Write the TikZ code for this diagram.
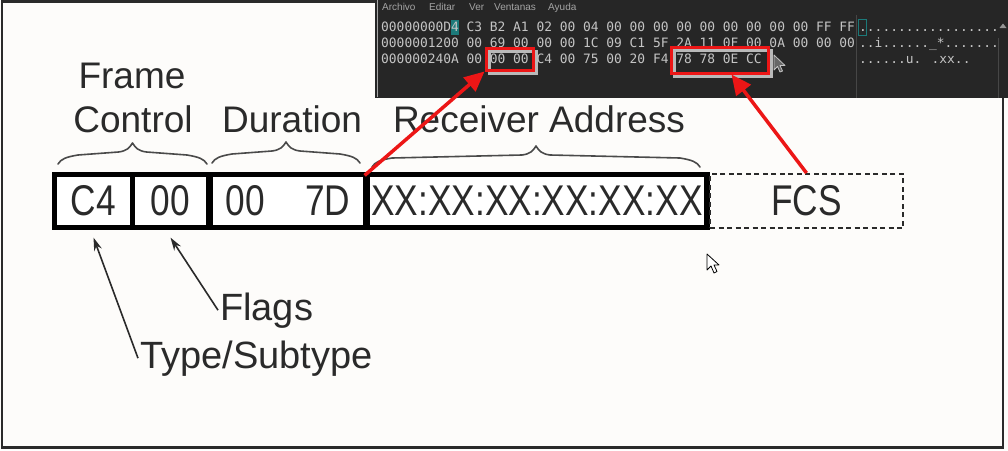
\documentclass[tikz,border=0pt]{standalone}
\usepackage{fontspec}
\setmainfont{Liberation Sans}
\newfontfamily\boxfont[FakeStretch=0.82]{Liberation Sans}
\newfontfamily\hexfont{DejaVu Sans Mono}
\usetikzlibrary{arrows.meta, positioning}

\definecolor{paper}{RGB}{253,252,250}
\definecolor{ink}{RGB}{42,42,42}
\definecolor{hexbg}{RGB}{38,38,38}
\definecolor{hextext}{RGB}{196,196,196}
\definecolor{hexline}{RGB}{70,70,70}
\definecolor{cursorteal}{RGB}{28,122,122}
\definecolor{redmark}{RGB}{236,22,22}

\begin{document}
\begin{tikzpicture}[x=1pt, y=-1pt]
		\tikzstyle{Field} = [rectangle, minimum height=50pt, inner sep=0pt, text centered, draw=black, line width=1.2pt, fill=white, text=ink, font=\boxfont\fontsize{43}{43}\selectfont]
		\tikzstyle{Label} = [inner sep=2pt, text=ink, font=\fontsize{37}{37}\selectfont]
		\tikzstyle{HexRow} = [anchor=base west, inner sep=0pt, text=hextext, font=\hexfont\fontsize{12.9}{15}\selectfont]
		\tikzstyle{Menu} = [anchor=base west, inner sep=0pt, text=hextext!80!hexbg, font=\fontsize{10}{12}\selectfont]
		\tikzstyle{RedBox} = [rectangle, draw=redmark, line width=3pt, inner sep=0pt]
		\tikzstyle{Brace} = [line width=1.6pt, ink!85, line join=round, line cap=round]
		\tikzstyle{arrow} = [line width=1.6pt, ink, -{Stealth[length=13pt, width=8pt]}]
		\tikzstyle{RedArrow} = [line width=3.5pt, redmark, -{Triangle[length=20pt, width=18pt]}]
		
		%\draw[step=50pt,gray,very thin] (0,0) grid (1008,450);
		
		\useasboundingbox (0,0) rectangle (1008,450);
		\fill[paper] (0,0) rectangle (1008,450);
		\draw[line width=2.5pt, ink] (2,1.5) rectangle (1003,447.5);
		
		% hex editor
		\fill[hexbg] (375,0) rectangle (1008,98);
		\draw[line width=1pt, gray!70] (377.5,0) -- (377.5,97);
		\draw[line width=0.8pt, hexline] (856,15) -- (856,98);
		\draw[line width=0.8pt, hexline] (998,38) -- (998,98);
		\fill[hextext!70!hexbg] (999.5,28) -- (1003,23.5) -- (1006.5,28) -- cycle;
		\foreach \w/\x in {Archivo/382, Editar/429, Ver/469, Ventanas/494, Ayuda/548}
			\node[Menu] (menu\w) at (\x,10) {\w};
		\fill[cursorteal] (450.5,20) rectangle (458.5,34.5);
		\draw[cursorteal, line width=1pt] (858,19) rectangle (866.5,35);
		\draw[line width=3pt, gray!55] (489,51) rectangle (536,73);
		\draw[line width=3pt, gray!55] (674,50) rectangle (771,76);
		\node[HexRow] (row0) at (381,31) {00000000D4 C3 B2 A1 02 00 04 00 00 00 00 00 00 00 00 00 FF FF};
		\node[HexRow] (row1) at (381,47) {0000001200 00 69 00 00 00 1C 09 C1 5F 2A 11 0F 00 0A 00 00 00};
		\node[HexRow] (row2) at (381,63) {000000240A 00 00 00 C4 00 75 00 20 F4 78 78 0E CC};
		\node[HexRow] (asc0) at (859,31) {..................};
		\node[HexRow] (asc1) at (859,47) {..i......\_*.......};
		\node[HexRow] (asc2) at (859,63) {......u. .xx..};
		\node[RedBox, minimum width=47pt, minimum height=22pt] (hexlen) at (509.5,59) {};
		\node[RedBox, minimum width=97pt, minimum height=26pt] (hexfcs) at (719.5,60) {};
		\draw[hextext, line width=0.8pt, fill=hexbg!70!white, line join=round] (774,55) -- (774,70) -- (777.5,66.5) -- (780,72) -- (782.5,71) -- (780,65.5) -- (785,65.5) -- cycle;
		
		% labels and braces
		\node[Label, anchor=base] (frame) at (132,88) {Frame};
		\node[Label, anchor=base] (control) at (133,132) {Control};
		\node[Label, anchor=base] (duration) at (292,132) {Duration};
		\node[Label, anchor=base] (receiver) at (539,132) {Receiver Address};
		\foreach \a/\b/\y in {58/207/164, 212/360/163, 372/700/167}
			\draw[Brace] (\a,\y) .. controls (\a+3,\y-5) and (\a+8,\y-7) .. (\a+20,\y-9) -- ({(\a+\b)/2-14},\y-12) .. controls ({(\a+\b)/2-6},\y-13) and ({(\a+\b)/2-3},\y-16) .. ({(\a+\b)/2},\y-21) .. controls ({(\a+\b)/2+3},\y-16) and ({(\a+\b)/2+6},\y-13) .. ({(\a+\b)/2+14},\y-12) -- (\b-20,\y-9) .. controls (\b-8,\y-7) and (\b-3,\y-5) .. (\b,\y);
		
		% frame fields
		\fill[black] (52,172) rectangle (710,230);
		\node[Field, minimum width=75pt] (fctype) at (93.5,201) {C4};
		\node[Field, minimum width=73pt] (fcflags) at (170.5,201) {00};
		\node[Field, minimum width=152pt] (dur) at (288,201) {00\hspace{40pt}7D};
		\node[Field, minimum width=336pt] (ra) at (537,201) {XX:XX:XX:XX:XX:XX};
		\node[Field, minimum width=193pt, minimum height=54pt, draw=ink, line width=2pt, dash pattern=on 5pt off 3.5pt, fill=paper] (fcs) at (806.5,201) {FCS};
		
		\node[Label, anchor=base west, font=\fontsize{38}{38}\selectfont] (flags) at (218,320) {Flags};
		\node[Label, anchor=base west, font=\fontsize{38}{38}\selectfont] (typesub) at (138,368) {Type/Subtype};
		\draw[arrow] (flags.west) -- ([yshift=-11pt]fcflags.south);
		\draw[arrow] (typesub.west) -- ([yshift=-11pt]fctype.south);
		
		\draw[RedArrow] (dur.north east) -- (hexlen.south west);
		\draw[RedArrow] (fcs.north) -- ([xshift=12pt]hexfcs.south);
		
		\draw[black, line width=0.8pt, fill=white, line join=round] (707,254) -- (707,270) -- (711,266) -- (714,273) -- (717,271.5) -- (714,265) -- (719,265) -- cycle;
		\end{tikzpicture}
\end{document}
